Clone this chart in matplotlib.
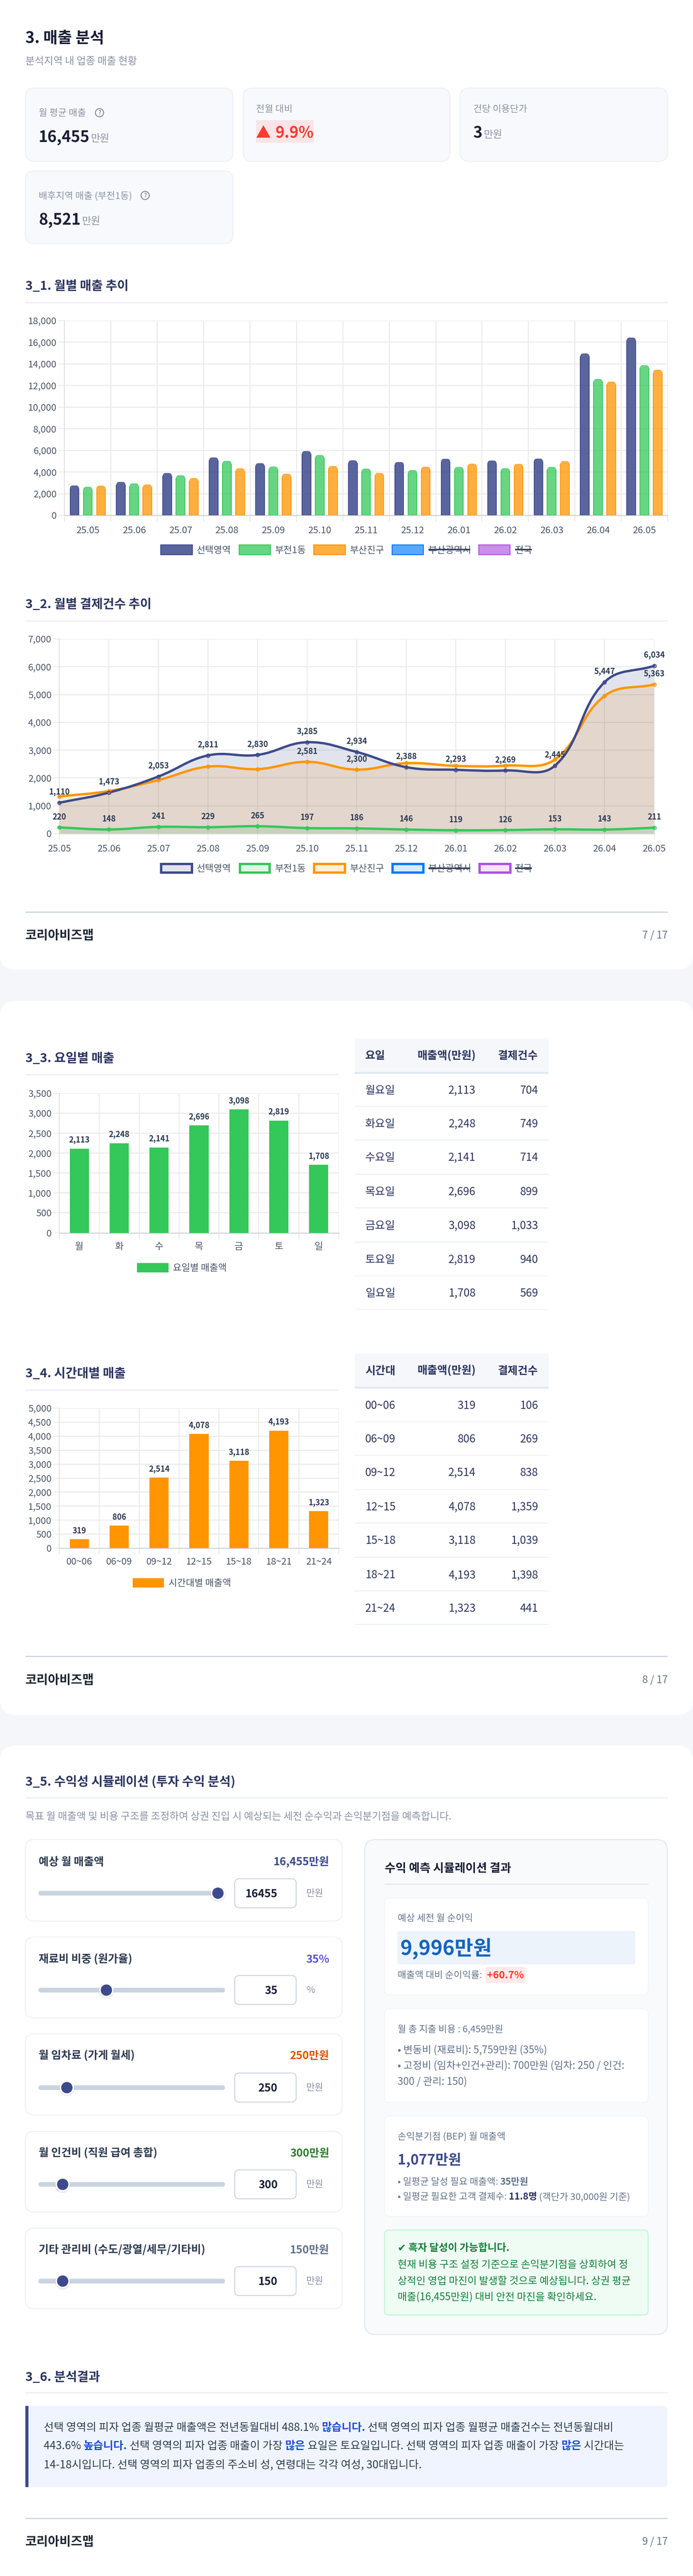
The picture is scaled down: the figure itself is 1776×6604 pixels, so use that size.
import numpy as np
import matplotlib
matplotlib.use("Agg")
import matplotlib.pyplot as plt
from matplotlib.patches import FancyBboxPatch, Rectangle, Circle, PathPatch, Polygon
from matplotlib.path import Path
from matplotlib.font_manager import FontProperties

plt.rcParams['font.family'] = ['Noto Sans CJK KR', 'DejaVu Sans']

W, H = 1776, 6604
PX = 0.72

# ---------- data ----------
months = ['25.05','25.06','25.07','25.08','25.09','25.10','25.11','25.12','26.01','26.02','26.03','26.04','26.05']
sales_area = [2746,3079,3901,5335,4810,5930,5073,4915,5212,5055,5230,14955,16425]
sales_dong = [2624,2939,3691,5020,4495,5562,4303,4163,4460,4338,4460,12594,13871]
sales_gu = [2729,2834,3428,4338,3831,4548,3901,4478,4758,4740,5003,12349,13451]

count_area = [1110,1473,2053,2811,2830,3285,2934,2388,2293,2269,2445,5447,6034]
count_dong = [220,148,241,229,265,197,186,146,119,126,153,143,211]
count_gu = [1334,1531,1925,2408,2319,2581,2300,2533,2435,2444,2668,4951,5363]
count_gu_labelled = [5,6,12]

legend_names = ['선택영역','부전1동','부산진구','부산광역시','전국']

weekdays = ['월','화','수','목','금','토','일']
weekday_names = ['월요일','화요일','수요일','목요일','금요일','토요일','일요일']
weekday_sales = [2113,2248,2141,2696,3098,2819,1708]
weekday_counts = [704,749,714,899,1033,940,569]

slots = ['00~06','06~09','09~12','12~15','15~18','18~21','21~24']
slot_sales = [319,806,2514,4078,3118,4193,1323]
slot_counts = [106,269,838,1359,1039,1398,441]

slider_titles = ['예상 월 매출액','재료비 비중 (원가율)','월 임차료 (가게 월세)','월 인건비 (직원 급여 총합)','기타 관리비 (수도/광열/세무/기타비)']
slider_values = ['16,455만원','35%','250만원','300만원','150만원']
slider_inputs = ['16455','35','250','300','150']
slider_units = ['만원','%','만원','만원','만원']
slider_fracs = [1.0,0.359,0.132,0.108,0.108]

# ---------- colours ----------
BG = '#f5f6fa'
NAVY = '#3d4a8c'
GREEN = '#34c759'
ORANGE = '#ff9500'
BLUE = '#007aff'
PURPLE = '#af52de'
TITLE = '#1a1f36'
SECTION = '#2d3561'
GRAY = '#8a93a6'
SLATE = '#64748b'
TICK = '#4a5568'
GRID = '#e9e9e9'
LINE = '#f0f1f5'
FOOT = '#cbd5e1'
def rgba(c, a):
    return matplotlib.colors.to_rgba(c, a)

fig = plt.figure(figsize=(W/100, H/100), dpi=100, facecolor=BG)
bg = fig.add_axes([0, 0, 1, 1])
bg.set_xlim(0, W); bg.set_ylim(H, 0); bg.axis('off')
renderer = fig.canvas.get_renderer()

def t(x, yc, s, size, color=TITLE, weight='normal', ha='left', **kw):
    return bg.text(x, yc + 0.35*size, s, fontsize=size*PX, color=color, fontweight=weight,
                   ha=ha, va='baseline', zorder=5, **kw)

def adv(s, size, weight='normal'):
    fp = FontProperties(family=plt.rcParams['font.family'], size=size*PX, weight=weight)
    a = renderer.get_text_width_height_descent('|'+s+'|', fp, False)[0]
    b = renderer.get_text_width_height_descent('||', fp, False)[0]
    return a - b

def runs(x, yc, parts, size):
    for s, color, weight in parts:
        t(x, yc, s, size, color, weight)
        x += adv(s, size, weight)

def box(x0, y0, x1, y1, r, fc, ec='none', lw=0, z=2):
    p = FancyBboxPatch((x0, y0), x1-x0, y1-y0, boxstyle=f'round,pad=0,rounding_size={r}',
                       fc=fc, ec=ec, lw=lw*PX, zorder=z)
    bg.add_patch(p)
    return p

def rect(x0, y0, x1, y1, fc, z=3):
    bg.add_patch(Rectangle((x0, y0), x1-x0, y1-y0, fc=fc, ec='none', zorder=z))

def hline(x0, x1, y, th, color, z=3):
    rect(x0, y-th/2, x1, y+th/2, color, z)

def section(yc, yrule, s, x1=1711):
    t(65, yc, s, 32, SECTION, 'bold')
    hline(65, x1, yrule, 4, LINE)

def footer(yrule, yc, page):
    hline(65, 1711, yrule, 3, FOOT)
    t(65, yc, '코리아비즈맵', 32, '#1f2733', 'bold')
    t(1711, yc, page, 26, SLATE, ha='right')

def help_icon(x, y):
    bg.add_patch(Circle((x, y), 10.5, fc='none', ec='#858ea2', lw=2.5*PX, zorder=5))
    bg.text(x, y+0.5, '?', fontsize=15*PX, color='#858ea2', fontweight='bold', ha='center', va='center', zorder=6)

def legend_item(bx0, bx1, by0, by1, fc, ec, lw, label, tx, tx1, yc, strike=False):
    bg.add_patch(Rectangle((bx0, by0), bx1-bx0, by1-by0, fc=fc, ec=ec, lw=lw*PX, zorder=4))
    t(tx, yc, label, 24, '#4a5568')
    if strike:
        hline(tx, tx1, yc, 4, '#3a4560', 6)

# ---------- pages ----------
box(0, -60, W, 2486, 40, 'white', z=1)
box(0, 2566, W, 4396, 40, 'white', z=1)
box(0, 4475, W, 6664, 40, 'white', z=1)

# ---------- page 1 header + KPI ----------
t(65, 96, '3. 매출 분석', 40, TITLE, 'bold')
t(65, 156, '분석지역 내 업종 매출 현황', 26, GRAY)

for x0, x1, y0, y1 in [(65,597,226,414),(623,1153,226,414),(1179,1711,226,414),(65,597,438,625)]:
    box(x0, y0, x1, y1, 24, '#f8f9fc', '#eef0f5', 2.5)

t(99, 289, '월 평균 매출', 24, GRAY); help_icon(255, 289)
t(99, 350, '16,455', 40, TITLE, 'bold'); t(233, 354, '만원', 26, GRAY)
t(656, 279, '전월 대비', 24, GRAY)
rect(656, 308, 804, 366, '#f9e5e7', 3)
bg.add_patch(Polygon([(657,353),(675,321),(693,353)], fc='#ff3b30', ec='none', zorder=5))
t(705, 339, '9.9%', 40, '#ff3b30', 'bold')
t(1213, 279, '건당 이용단가', 24, GRAY)
t(1213, 339, '3', 40, TITLE, 'bold'); t(1240, 344, '만원', 26, GRAY)
t(99, 501, '배후지역 매출 (부전1동)', 24, GRAY); help_icon(372, 501)
t(99, 562, '8,521', 40, TITLE, 'bold'); t(210, 566, '만원', 26, GRAY)

# ---------- axes helpers ----------
def add_ax(l, tp, r, b):
    ax = fig.add_axes([l/W, 1-b/H, (r-l)/W, (b-tp)/H], zorder=3)
    ax.patch.set_alpha(0)
    for s in ['top','right']:
        ax.spines[s].set_visible(False)
    ax.spines['left'].set_color('#dcdcdc'); ax.spines['left'].set_linewidth(2*PX)
    ax.spines['bottom'].set_color('#d8d8d8'); ax.spines['bottom'].set_linewidth(3*PX)
    ax.set_axisbelow(True)
    return ax

def y_style(ax, ticks):
    ax.set_ylim(ticks[0], ticks[-1])
    ax.set_yticks(ticks)
    ax.set_yticklabels([f'{v:,}' for v in ticks])
    ax.tick_params(axis='y', length=16*PX, width=2*PX, color=GRID, pad=4*PX,
                   labelsize=24*PX, labelcolor=TICK)
    ax.grid(True, axis='y', color=GRID, lw=2.5*PX)

def cat_style(ax, labels, boundary_ticks):
    n = len(labels)
    ax.set_xlim(-0.5, n-0.5)
    ax.set_xticks(range(n)); ax.set_xticklabels(labels)
    ax.set_xticks(boundary_ticks, minor=True)
    ax.tick_params(axis='x', which='major', length=0, pad=28*PX, labelsize=24*PX, labelcolor=TICK)
    ax.tick_params(axis='x', which='minor', length=16*PX, width=2*PX, color='#e6e6e6')
    ax.grid(True, axis='x', which='minor', color='#e6e6e6', lw=2*PX)

def round_top_bars(ax, bars, r_px, px_x, px_y):
    for b in bars:
        x0, y0, w, h = b.get_x(), b.get_y(), b.get_width(), b.get_height()
        rx, ry = r_px/px_x, r_px/px_y
        verts = [(x0-1,y0-1e6),(x0-1,y0+h-ry),(x0,y0+h-ry),(x0,y0+h),(x0+rx,y0+h),
                 (x0+w-rx,y0+h),(x0+w,y0+h),(x0+w,y0+h-ry),(x0+w+1,y0+h-ry),(x0+w+1,y0-1e6),(x0-1,y0-1e6)]
        codes = [Path.MOVETO,Path.LINETO,Path.LINETO,Path.CURVE3,Path.CURVE3,
                 Path.LINETO,Path.CURVE3,Path.CURVE3,Path.LINETO,Path.LINETO,Path.CLOSEPOLY]
        b.set_clip_path(Path(verts, codes), ax.transData)

# ---------- 3_1 ----------
section(732, 776, '3_1. 월별 매출 추이')
ax1 = add_ax(165.4, 822, 1711, 1321)
y_style(ax1, list(range(0, 18001, 2000)))
cat_style(ax1, months, np.arange(-0.5, 13, 1))
ax1.tick_params(axis='x', which='major', pad=28*PX)
x = np.arange(len(months))
for vals, off, fc, ec in [(sales_area,-0.2857,rgba(NAVY,.85),NAVY),
                          (sales_dong,0,rgba(GREEN,.75),GREEN),
                          (sales_gu,0.2857,rgba(ORANGE,.75),ORANGE)]:
    bars = ax1.bar(x+off, vals, width=0.19, color=fc, edgecolor=ec, lw=2*PX, zorder=3)
    round_top_bars(ax1, bars, 7, (1711-165.4)/13, (1321-822)/18000)

lg1 = [(412,493,504,592),(613,693,705,784),(804,885,897,984),(1005,1085,1098,1205),(1227,1307,1320,1363)]
for i,((b0,b1,tx,tx1),c,a) in enumerate(zip(lg1,[NAVY,GREEN,ORANGE,BLUE,PURPLE],[.85,.75,.75,.65,.65])):
    legend_item(b0,b1,1397,1422,rgba(c,a),c,2.5,legend_names[i],tx,tx1,1409.5,strike=i>=3)

# ---------- 3_2 ----------
section(1548, 1592, '3_2. 월별 결제건수 추이')
ax2 = add_ax(152, 1638, 1676.5, 2137)
y_style(ax2, list(range(0, 7001, 1000)))
ax2.set_xlim(0, 12)
ax2.set_xticks(range(13)); ax2.set_xticklabels(months)
ax2.tick_params(axis='x', length=16*PX, width=1.5*PX, color='#e4e4e4', pad=12*PX,
                labelsize=24*PX, labelcolor=TICK)
ax2.grid(True, axis='x', color='#e6e6e6', lw=2*PX)
sx, sy = (1676.5-152)/12, (2137-1638)/7000

def spline_path(xs, ys, tension=0.4):
    px = np.array(xs, float)*sx; py = np.array(ys, float)*sy
    n = len(px)
    verts = [(px[0], py[0])]; codes = [Path.MOVETO]
    nxt = []; prv = []
    for i in range(n):
        p0 = (px[max(i-1,0)], py[max(i-1,0)]); p1 = (px[i], py[i]); p2 = (px[min(i+1,n-1)], py[min(i+1,n-1)])
        d01 = np.hypot(p1[0]-p0[0], p1[1]-p0[1]); d12 = np.hypot(p2[0]-p1[0], p2[1]-p1[1])
        tot = d01+d12
        fa, fb = tension*d01/tot, tension*d12/tot
        prv.append((p1[0]-fa*(p2[0]-p0[0]), p1[1]-fa*(p2[1]-p0[1])))
        nxt.append((p1[0]+fb*(p2[0]-p0[0]), p1[1]+fb*(p2[1]-p0[1])))
    for i in range(n-1):
        verts += [nxt[i], prv[i+1], (px[i+1], py[i+1])]
        codes += [Path.CURVE4]*3
    return [(a/sx, b/sy) for a, b in verts], codes

xi = list(range(13))
for vals, c in [(count_gu,ORANGE),(count_dong,GREEN),(count_area,NAVY)]:
    v, cd = spline_path(xi, vals)
    ax2.add_patch(PathPatch(Path(v+[(12,0),(0,0),v[0]], cd+[Path.LINETO,Path.LINETO,Path.CLOSEPOLY]),
                            fc=rgba(c,.15), ec='none', zorder=2))
    ax2.add_patch(PathPatch(Path(v, cd), fc='none', ec=c, lw=6*PX, zorder=3, capstyle='round', clip_on=False))
    ax2.plot(xi, vals, ls='none', marker='o', ms=9*PX, mfc=rgba(c,.25), mec=c, mew=2*PX, zorder=4, clip_on=False)

def val_labels(ax, xs, vals, off, size, color='#2c3a52', weight='bold', idx=None):
    for i,(a,b) in enumerate(zip(xs, vals)):
        if idx is not None and i not in idx:
            continue
        ax.annotate(f'{b:,}', (a,b), xytext=(0, off*PX), textcoords='offset points', ha='center', va='center',
                    fontsize=size*PX, color=color, fontweight=weight, zorder=6, annotation_clip=False)

val_labels(ax2, xi, count_area, 27, 20)
val_labels(ax2, xi, count_dong, 27, 20)
val_labels(ax2, xi, count_gu, 27, 20, idx=count_gu_labelled)

lg2 = [(410,495,504,592),(612,694,705,784),(802,887,897,984),(1003,1088,1098,1205),(1226,1311,1320,1363)]
for i,((b0,b1,tx,tx1),c) in enumerate(zip(lg2,[NAVY,GREEN,ORANGE,BLUE,PURPLE])):
    legend_item(b0+3,b1-3,2212+3,2240-3,rgba(c,.15),c,6,legend_names[i],tx,tx1,2226,strike=i>=3)

footer(2339, 2397, '7 / 17')

# ---------- 3_3 / 3_4 ----------
def bar_chart(tp, b, ticks, labels, vals, color):
    ax = add_ax(152, tp, 868, b)
    y_style(ax, ticks)
    cat_style(ax, labels, np.arange(-0.5, len(labels), 1))
    ax.tick_params(axis='x', which='major', pad=24*PX)
    xs = np.arange(len(labels))
    ax.bar(xs, vals, width=0.48, color=color, zorder=3)
    val_labels(ax, xs, vals, 22, 20)
    return ax

section(2712, 2755.5, '3_3. 요일별 매출', 868)
bar_chart(2803, 3160.5, list(range(0,3501,500)), weekdays, weekday_sales, GREEN)
rect(351, 3238, 432, 3262, GREEN, 4); t(443, 3250, '요일별 매출액', 24, '#4a5568')

section(3520, 3564, '3_4. 시간대별 매출', 868)
bar_chart(3610, 3969, list(range(0,5001,500)), slots, slot_sales, ORANGE)
rect(340, 4046, 420, 4070, ORANGE, 4); t(432, 4058, '시간대별 매출액', 24, '#4a5568')

def table(hy0, hy1, heads, names, sales, counts, seps, ycs):
    rect(908.5, hy0, 1406, hy1, '#f5f7fa')
    hline(908.5, 1406, hy1+2, 5, '#e2e8f0')
    yh = (hy0+hy1)/2
    t(936, yh, heads[0], 28, SECTION, 'bold')
    t(1219, yh, heads[1], 28, SECTION, 'bold', ha='right')
    t(1379, yh, heads[2], 28, SECTION, 'bold', ha='right')
    for n, s, c, sp, yc in zip(names, sales, counts, seps, ycs):
        t(936, yc, n, 28, SECTION)
        t(1219, yc, f'{s:,}', 28, SECTION, ha='right')
        t(1379, yc, f'{c:,}', 28, SECTION, ha='right')
        hline(908.5, 1406, sp, 2.5, '#eef1f5')

table(2662, 2748.5, ['요일','매출액(만원)','결제건수'], weekday_names, weekday_sales, weekday_counts,
      [2836.5,2922.6,3010.6,3096.7,3184.7,3270.8,3357], [2794,2880,2966,3054,3141,3228,3314])
table(3470, 3556, ['시간대','매출액(만원)','결제건수'], slots, slot_sales, slot_counts,
      [3645,3731,3819,3904.5,3992.5,4078.6,4164.7], [3602,3688,3774,3862,3948,4036.5,4122])
footer(4247, 4305.7, '8 / 17')

# ---------- 3_5 ----------
section(4566, 4609, '3_5. 수익성 시뮬레이션 (투자 수익 분석)')
t(65, 4656, '목표 월 매출액 및 비용 구조를 조정하여 상권 진입 시 예상되는 세전 순수익과 손익분기점을 예측합니다.', 26, GRAY)

cards = [(4716,4925,4772,4853.5,4816.5,4891),(4966,5173,5022,5102,5064.6,5139),(5214.5,5422,5269,5352,5314.6,5389),
         (5464.5,5671,5519,5600,5563,5637),(5712.5,5919,5767,5848,5811,5885)]
val_colors = [NAVY,'#5856d6','#e65100','#2e7d32',SLATE]
for i,(c0,c1,yt,ys,i0,i1) in enumerate(cards):
    box(65, c0, 877, c1, 22, 'white', '#eef1f5', 2.5)
    t(99, yt, slider_titles[i], 28, '#2f3b52', 'bold')
    t(844, yt, slider_values[i], 28, val_colors[i], 'bold', ha='right')
    box(98.5, ys-6, 576.5, ys+6, 6, '#c9d4e0', z=3)
    kx = 112.5 + slider_fracs[i]*(558.5-112.5)
    bg.add_patch(Circle((kx, ys+2), 20, fc=(0,0,0,.08), ec='none', zorder=4))
    bg.add_patch(Circle((kx, ys), 16.5, fc=NAVY, ec='white', lw=4*PX, zorder=5))
    box(601.5, i0, 759, i1, 12, 'white', '#cbd5e1', 2.5)
    t(711.5, (i0+i1)/2, slider_inputs[i], 28, TITLE, 'bold', ha='right')
    t(785, (i0+i1)/2-1, slider_units[i], 24, GRAY)

box(934.5, 4716, 1710.5, 5985, 28, '#f8fafc', '#e2e8f0', 2.5)
t(985.5, 4789, '수익 예측 시뮬레이션 결과', 30, TITLE, 'bold')
hline(985.5, 1662, 4830.5, 3, '#e2e8f0')

box(985.5, 4866, 1661, 5114, 14, 'white', '#f1f5f9', 2)
t(1018.5, 4917, '예상 세전 월 순이익', 24, SLATE)
box(1018.5, 4950, 1628, 5036, 6, '#edf3fb', z=3)
t(1026, 4993, '9,996만원', 52, '#1565c0', 'bold')
t(1018.5, 5063, '매출액 대비 순이익률:', 24, SLATE)
box(1244, 5042, 1347, 5084, 8, '#ffe9e9', z=3)
t(1295.5, 5063, '+60.7%', 26, '#ff3b30', 'bold', ha='center')

box(985.5, 5150, 1661, 5390, 14, 'white', '#f1f5f9', 2)
t(1018.5, 5201, '월 총 지출 비용 : 6,459만원', 24, SLATE)
t(1018.5, 5255, '• 변동비 (재료비): 5,759만원 (35%)', 26, SLATE)
t(1018.5, 5295, '• 고정비 (임차+인건+관리): 700만원 (임차: 250 / 인건:', 26, SLATE)
t(1018.5, 5336, '300 / 관리: 150)', 26, SLATE)

box(985.5, 5425, 1661, 5682, 14, 'white', '#f1f5f9', 2)
t(1018.5, 5477, '손익분기점 (BEP) 월 매출액', 24, SLATE)
t(1018.5, 5536, '1,077만원', 36, NAVY, 'bold')
runs(1018.5, 5593, [('• 일평균 달성 필요 매출액: ', SLATE, 'normal'), ('35만원', SLATE, 'bold')], 24)
runs(1018.5, 5631, [('• 일평균 필요한 고객 결제수: ', SLATE, 'normal'), ('11.8명', SECTION, 'bold'),
                    (' (객단가 30,000원 기준)', SLATE, 'normal')], 24)

box(985.5, 5717, 1661, 5935, 12, '#effcf3', '#bbf7d0', 2.5)
t(1018.5, 5762, '✔ 흑자 달성이 가능합니다.', 26, '#15803d', 'bold')
t(1018.5, 5805, '현재 비용 구조 설정 기준으로 손익분기점을 상회하여 정', 26, '#15803d')
t(1018.5, 5847, '상적인 영업 마진이 발생할 것으로 예상됩니다. 상권 평균', 26, '#15803d')
t(1018.5, 5888, '매출(16,455만원) 대비 안전 마진을 확인하세요.', 26, '#15803d')

# ---------- 3_6 ----------
section(6093, 6134, '3_6. 분석결과')
box(65, 6168, 1711, 6376, 12, '#f0f4ff', z=2)
rect(65, 6168, 73, 6376, NAVY)
TXT = '#2c3e50'; HL = '#1d4ed8'
runs(112, 6222, [('선택 영역의 피자 업종 월평균 매출액은 전년동월대비 488.1% ', TXT, 'normal'), ('많습니다.', HL, 'bold'),
                 (' 선택 영역의 피자 업종 월평균 매출건수는 전년동월대비', TXT, 'normal')], 28)
runs(112, 6269, [('443.6% ', TXT, 'normal'), ('높습니다.', HL, 'bold'), (' 선택 영역의 피자 업종 매출이 가장 ', TXT, 'normal'),
                 ('많은', HL, 'bold'), (' 요일은 토요일입니다. 선택 영역의 피자 업종 매출이 가장 ', TXT, 'normal'),
                 ('많은', HL, 'bold'), (' 시간대는', TXT, 'normal')], 28)
runs(112, 6318, [('14-18시입니다. 선택 영역의 피자 업종의 주소비 성, 연령대는 각각 여성, 30대입니다.', TXT, 'normal')], 28)
footer(6457, 6515, '9 / 17')

fig.savefig('out.png', dpi=100, facecolor=BG)
